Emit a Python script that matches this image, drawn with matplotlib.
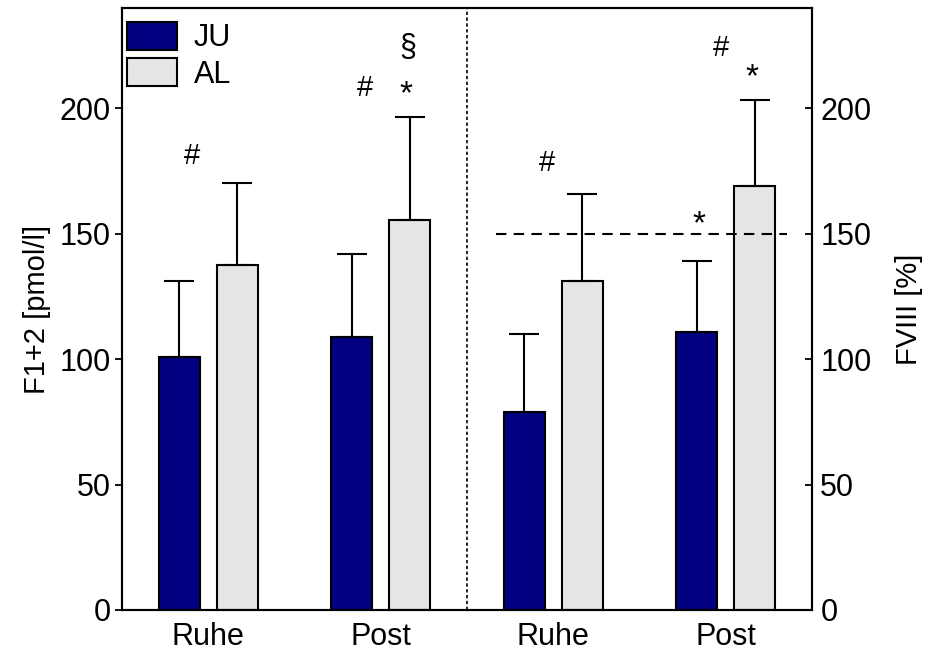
import matplotlib.pyplot as plt
import numpy as np

plt.rcParams['font.family'] = ['Liberation Sans', 'DejaVu Sans']

groups = ["Ruhe", "Post", "Ruhe", "Post"]
ju_mean = [101, 109, 79, 111]
ju_sd = [30, 33, 31, 28]
al_mean = [137.7, 155.6, 131.2, 169.2]
al_sd = [32.4, 40.8, 34.8, 34.0]

# significance marks: (x, y, symbol)
marks = [
    (-0.093, 181, "#"),
    (0.909, 208, "#"),
    (1.146, 205.6, "*"),
    (1.158, 224, "§"),
    (1.963, 178, "#"),
    (2.843, 153.6, "*"),
    (2.970, 224, "#"),
    (3.150, 212.2, "*"),
]

fig = plt.figure(figsize=(9.25, 6.54), dpi=100)
ax = fig.add_axes([0.1319, 0.0673, 0.7459, 0.9205])

x = np.arange(len(groups))
w = 0.237
off = 0.168

err_kw = dict(ecolor="black", elinewidth=1.5, capsize=10.8, capthick=1.5)
ax.bar(x - off, ju_mean, w, color="#000080", edgecolor="black", linewidth=1.5,
       yerr=[np.zeros(4), ju_sd], error_kw=err_kw, label="JU", zorder=2)
ax.bar(x + off, al_mean, w, color="#e5e5e5", edgecolor="black", linewidth=1.5,
       yerr=[np.zeros(4), al_sd], error_kw=err_kw, label="AL", zorder=2)

ax.axvline(1.5, color="black", linestyle=(0, (2, 1.5)), linewidth=1.2)
ax.plot([1.668, 3.353], [150, 150], color="black", linestyle=(0, (5, 3.5)),
        linewidth=1.5)

sizes = {"*": 24, "#": 21, "§": 22}
for mx, my, s in marks:
    ax.text(mx, my, s, ha="center", va="center", fontsize=sizes[s])

ax.set_xlim(-0.5, 3.5)
ax.set_ylim(0, 240)
ax.set_xticks(x)
ax.set_xticklabels(groups, fontsize=22)
ax.tick_params(axis="x", length=0, pad=9)
ax.set_yticks([0, 50, 100, 150, 200])
ax.tick_params(axis="y", direction="out", length=5, width=1.3, labelsize=22, pad=3)
ax.set_ylabel("F1+2 [pmol/l]", fontsize=21, labelpad=6)
for sp in ax.spines.values():
    sp.set_linewidth(1.5)

ax2 = ax.twinx()
ax2.set_ylim(0, 240)
ax2.set_yticks([0, 50, 100, 150, 200])
ax2.tick_params(axis="y", direction="in", length=5, width=1.3, labelsize=22, pad=6)
ax2.set_ylabel("FVIII [%]", fontsize=21, labelpad=17)
for sp in ax2.spines.values():
    sp.set_linewidth(1.5)

ax.legend(loc="upper left", bbox_to_anchor=(0.0072, 0.977), frameon=False,
          fontsize=22, handlelength=1.63, handleheight=1.05, handletextpad=0.55,
          labelspacing=0.15, borderpad=0.0, borderaxespad=0.0)

fig.savefig("out.png", dpi=100)
